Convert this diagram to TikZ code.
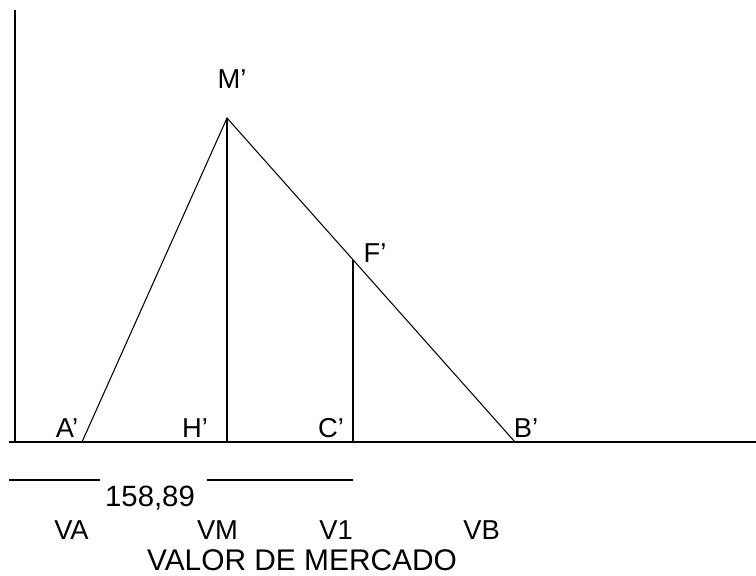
\documentclass[tikz,border=0pt]{standalone}
\usepackage{fontspec}
\setmainfont{Liberation Sans}
\usepackage{tikz}

\begin{document}
\begin{tikzpicture}[
    x=0.75pt,y=-0.75pt,
    axis/.style={line width=1pt},
    seg/.style={line width=0.8pt},
    lbl/.style={anchor=base,inner sep=0pt,font=\fontsize{20.5}{24}\selectfont},
    biglbl/.style={lbl,font=\fontsize{22.4}{26}\selectfont}
  ]
    \useasboundingbox (0,0) rectangle (756,575);
    % axes
    \coordinate (ytop) at (15,10);
    \coordinate (yfoot) at (15,442);
    \coordinate (xleft) at (9,442);
    \coordinate (xright) at (756,442);
    \draw[axis] (ytop) -- (yfoot);
    \draw[axis] (xleft) -- (xright);

    % points of the triangle
    \coordinate (A) at (82,442);
    \coordinate (M) at (227,118);
    \coordinate (B) at (515,442);
    \coordinate (H) at (227,442);
    \coordinate (C) at (353,442);
    \path (M) -- (B) coordinate[pos=0.4375] (F);
    \draw[seg] (A) -- (M) -- (B);
    \draw[seg] (M) -- (H);
    \draw[seg] (F) -- (C);

    \node[lbl] (lM) at (232,88) {M’};
    \node[lbl] (lF) at (375,262) {F’};
    \node[lbl] (lA) at (67,437) {A’};
    \node[lbl] (lH) at (195,437) {H’};
    \node[lbl] (lC) at (331,437) {C’};
    \node[lbl] (lB) at (526,437) {B’};

    % value line below the axis
    \coordinate (d1a) at (9,480);
    \coordinate (d1b) at (100,480);
    \coordinate (d2a) at (207,480);
    \coordinate (d2b) at (353,480);
    \draw[seg] (d1a) -- (d1b);
    \draw[seg] (d2a) -- (d2b);
    \node[biglbl,font=\fontsize{22}{26}\selectfont] (val) at (150,506) {158,89};

    \node[lbl] (vA) at (71.5,539) {VA};
    \node[lbl] (vM) at (217.5,539) {VM};
    \node[lbl] (v1) at (336,539) {V1};
    \node[lbl] (vB) at (481.5,539) {VB};
    \node[biglbl] (title) at (302,570.5) {VALOR DE MERCADO};
  \end{tikzpicture}
\end{document}
